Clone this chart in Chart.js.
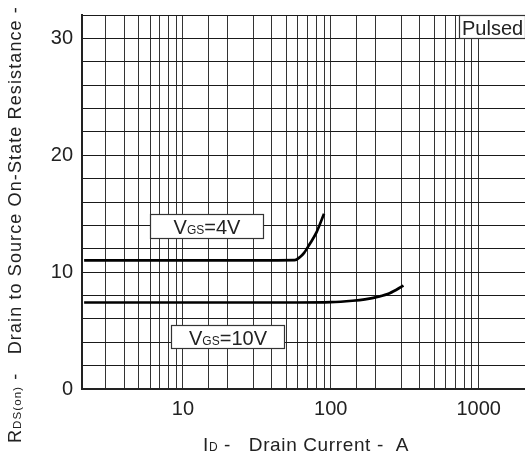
<!DOCTYPE html>
<html>
<head>
<meta charset="utf-8">
<script src="https://cdn.jsdelivr.net/npm/chart.js@4/dist/chart.umd.min.js"></script>
<style>
html,body{margin:0;padding:0;background:#fff;}
#wrap{width:525px;height:457px;}
</style>
</head>
<body>
<div id="wrap"><canvas id="c" width="525" height="457"></canvas></div>
<script>
// ---- data ----
const xMin = 2.08, xMax = 2055;
const yMin = 0, yMax = 32;
const xTickLabels = [10, 100, 1000];
const yTickLabels = [0, 10, 20, 30];

const id4V  = [2.15, 30, 57, 62, 66, 72, 80, 90];
const rds4V = [11.0, 11.0, 11.02, 11.3, 11.65, 12.4, 13.4, 15.0];

const id10V  = [2.15, 60, 100, 140, 170, 210, 250, 310];
const rds10V = [7.4, 7.4, 7.43, 7.55, 7.67, 7.9, 8.2, 8.85];

const FONT = "'Liberation Sans', Arial, sans-serif";
const INK = '#222';

function pts(xs, ys){ return xs.map((x,i)=>({x:x, y:ys[i]})); }

// label boxes in data coordinates
const boxes = [
  {x0: 6.0, x1: 35, y0: 12.9, y1: 14.95, runs: [['V',20],['GS',12],['=4V',20]], align:'center'},
  {x0: 8.3, x1: 48.5, y0: 3.55, y1: 5.5, runs: [['V',20],['GS',12],['=10V',20]], align:'center'},
  {x0: 730, x1: xMax, y0: 30, y1: 32, runs: [['Pulsed',20]], align:'left'}
];

function runsWidth(ctx, runs){
  let w = 0;
  runs.forEach(r=>{ ctx.font = r[1] + 'px ' + FONT; w += ctx.measureText(r[0]).width; });
  return w;
}
function drawRuns(ctx, x, y, runs){
  runs.forEach(r=>{
    ctx.font = r[1] + 'px ' + FONT;
    ctx.fillText(r[0], x, y);
    x += ctx.measureText(r[0]).width;
  });
}
// draw runs stretched (via letter spacing) to a target length
function drawRunsFit(ctx, x, y, runs, target){
  ctx.letterSpacing = '0px';
  const w = runsWidth(ctx, runs);
  const n = runs.reduce((a,r)=>a + r[0].length, 0);
  const ls = Math.max(0, (target - w) / n);
  ctx.letterSpacing = ls.toFixed(2) + 'px';
  runs.forEach(r=>{
    ctx.font = r[1] + 'px ' + FONT;
    ctx.fillText(r[0], x, y);
    x += ctx.measureText(r[0]).width;
  });
  ctx.letterSpacing = '0px';
}

const decor = {
  id: 'decor',
  afterDatasetsDraw(chart){
    const ctx = chart.ctx, xs = chart.scales.x, ys = chart.scales.y;
    ctx.save();
    boxes.forEach(b=>{
      const L = Math.round(xs.getPixelForValue(b.x0)) + 0.5;
      const R = Math.min(Math.round(xs.getPixelForValue(b.x1)) + 0.5, chart.width + 2);
      const T = Math.round(ys.getPixelForValue(b.y1)) + 0.5;
      const B = Math.round(ys.getPixelForValue(b.y0)) + 0.5;
      ctx.fillStyle = '#fff';
      ctx.fillRect(L, T, R - L, B - T);
      ctx.strokeStyle = '#333';
      ctx.lineWidth = 1.2;
      ctx.strokeRect(L, T, R - L, B - T);
      ctx.fillStyle = INK;
      ctx.textBaseline = 'alphabetic';
      ctx.textAlign = 'left';
      const w = runsWidth(ctx, b.runs);
      const tx = b.align === 'center' ? (L + R) / 2 - w / 2 : L + 2.5;
      const ty = (T + B) / 2 + 7.5;
      drawRuns(ctx, tx, ty, b.runs);
    });
    ctx.restore();
  },
  afterDraw(chart){
    const ctx = chart.ctx;
    ctx.save();
    ctx.fillStyle = INK;
    ctx.textBaseline = 'alphabetic';
    ctx.textAlign = 'left';
    // x-axis title
    drawRunsFit(ctx, 203, 451, [['I',19],['D',12],[' -   Drain Current -  A',19]], 206);
    // y-axis title
    ctx.translate(21, 443);
    ctx.rotate(-Math.PI / 2);
    drawRunsFit(ctx, 0, 0, [['R',18],['DS(on)',11.5],[' -   Drain to Source On-State Resistance -',18]], 437);
    ctx.restore();
  }
};

new Chart(document.getElementById('c'), {
  type: 'line',
  data: {
    datasets: [
      {label: 'VGS=4V', data: pts(id4V, rds4V), borderColor: '#000', borderWidth: 2.7,
       pointRadius: 0, fill: false, cubicInterpolationMode: 'monotone'},
      {label: 'VGS=10V', data: pts(id10V, rds10V), borderColor: '#000', borderWidth: 2.7,
       pointRadius: 0, fill: false, cubicInterpolationMode: 'monotone'}
    ]
  },
  options: {
    responsive: false,
    animation: false,
    devicePixelRatio: 1,
    layout: {padding: {top: 15, right: 0, left: 0, bottom: 0}},
    plugins: {legend: {display: false}, tooltip: {enabled: false}, title: {display: false}},
    scales: {
      x: {
        type: 'logarithmic', min: xMin, max: xMax,
        afterFit(s){ s.height = 68; s.paddingLeft = 0; s.paddingRight = 0; },
        border: {display: true, color: '#222', width: 2},
        grid: {
          drawTicks: false, lineWidth: 1,
          color: c => (c.tick && c.tick.value > 1000) ? 'rgba(0,0,0,0)' : '#333'
        },
        ticks: {
          autoSkip: false, maxRotation: 0, minRotation: 0, padding: 8,
          color: INK, font: {family: FONT, size: 20},
          callback: v => xTickLabels.includes(v) ? String(v) : ''
        }
      },
      y: {
        type: 'linear', min: yMin, max: yMax,
        afterFit(s){ s.width = 82; s.paddingTop = 0; s.paddingBottom = 0; },
        border: {display: true, color: '#222', width: 2},
        grid: {drawTicks: false, lineWidth: 1, color: '#1a1a1a'},
        ticks: {
          stepSize: 2, autoSkip: false, padding: 9,
          color: INK, font: {family: FONT, size: 20},
          callback: v => yTickLabels.includes(v) ? String(v) : ''
        }
      }
    }
  },
  plugins: [decor]
});
</script>
</body>
</html>
